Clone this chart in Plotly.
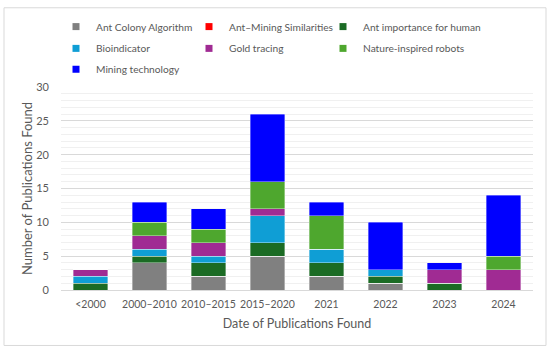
import plotly.graph_objects as go

categories = ["<2000", "2000–2010", "2010–2015", "2015–2020", "2021", "2022", "2023", "2024"]
series_names = ["Ant Colony Algorithm", "Ant–Mining Similarities", "Ant importance for human",
                "Bioindicator", "Gold tracing", "Nature-inspired robots", "Mining technology"]
ant_colony = [0, 4, 2, 5, 2, 1, 0, 0]
ant_mining = [0, 0, 0, 0, 0, 0, 0, 0]
ant_importance = [1, 1, 2, 2, 2, 1, 1, 0]
bioindicator = [1, 1, 1, 4, 2, 1, 0, 0]
gold_tracing = [1, 2, 2, 1, 0, 0, 2, 3]
nature_robots = [0, 2, 2, 4, 5, 0, 0, 2]
mining_tech = [0, 3, 3, 10, 2, 7, 1, 9]
colors = ["#808080", "#FF0000", "#1B6B24", "#0F9ED5", "#A02B93", "#4EA72E", "#0000FF"]

series_values = [ant_colony, ant_mining, ant_importance, bioindicator, gold_tracing, nature_robots, mining_tech]

fig = go.Figure()
for name, vals, col in zip(series_names, series_values, colors):
    fig.add_trace(go.Bar(x=categories, y=vals, name=name, marker_color=col,
                         marker_line=dict(color="rgba(255,255,255,0.6)", width=0.6),
                         showlegend=False))

font_color = "#595959"
L, R, T, B = 61, 533, 85, 290
PW, PH = R - L, B - T

def px_x(p):
    return (p - L) / PW

def px_y(p):
    return (B - p) / PH

# legend grid: 3 columns, 3 rows (one legend box per entry)
col_px = [56, 189, 323]
row_px = [24, 46, 67]
legend_layout = {}
for i, (name, col) in enumerate(zip(series_names, colors)):
    key = "legend" if i == 0 else f"legend{i + 1}"
    fig.add_trace(go.Scatter(x=[None], y=[None], mode="markers", name=name, legend=key,
                             marker=dict(symbol="square", size=7, color=col)))
    legend_layout[key] = dict(orientation="h", xanchor="left", yanchor="middle",
                              x=px_x(col_px[i % 3]), y=px_y(row_px[i // 3]),
                              font=dict(family="Lato, sans-serif", size=10.2, color=font_color),
                              itemwidth=30, bgcolor="rgba(0,0,0,0)")

fig.update_layout(
    width=550, height=350,
    barmode="stack", bargap=0.42,
    plot_bgcolor="white", paper_bgcolor="white",
    margin=dict(l=L, r=550 - R, t=T, b=350 - B),
    font=dict(family="Lato, Open Sans, sans-serif", size=12, color=font_color),
    xaxis=dict(title=dict(text="Date of Publications Found", font=dict(size=12.5), standoff=10),
               showline=True, linecolor="#d9d9d9", linewidth=1, tickfont=dict(size=10.5),
               tickangle=0, automargin=False, ticklabelstandoff=4),
    yaxis=dict(title=dict(text="Number of Publications Found", font=dict(size=13), standoff=0),
               range=[0, 30], dtick=5, showgrid=True, gridcolor="#d9d9d9", gridwidth=1,
               minor=dict(dtick=1, showgrid=True, gridcolor="#f0f0f0", gridwidth=1),
               zeroline=False, ticks="", ticklabelstandoff=11, tickfont=dict(size=11),
               automargin=False),
    shapes=[dict(type="rect", xref="paper", yref="paper",
                 x0=px_x(4), x1=px_x(546), y0=px_y(346), y1=px_y(5),
                 line=dict(color="#d9d9d9", width=1), fillcolor="rgba(0,0,0,0)", layer="below")],
    **legend_layout,
)

fig.write_html("out.html", config={"displayModeBar": False},
               post_script="document.body.style.margin='0';")
